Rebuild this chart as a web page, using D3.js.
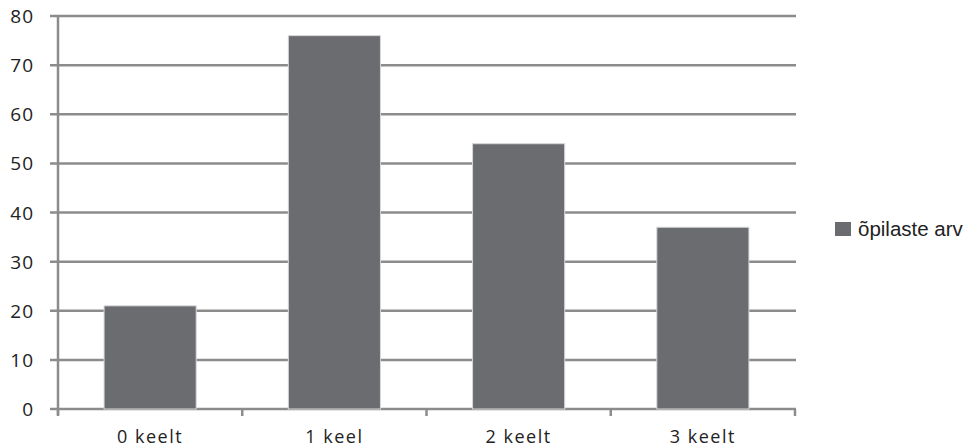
<!DOCTYPE html>
<html lang="et">
<head>
<meta charset="utf-8">
<title>keeled</title>
<script src="https://cdn.jsdelivr.net/npm/d3@7"></script>
<style>
  body { margin: 0; background: #fff; }
</style>
</head>
<body>
<script>
// data
var categories = ["0 keelt", "1 keel", "2 keelt", "3 keelt"];
var values = [21, 76, 54, 37];
var yTicks = [0, 10, 20, 30, 40, 50, 60, 70, 80];
var seriesName = "õpilaste arv";

var W = 965, H = 445;
// note: "top" is reserved on window, so use prefixed names
var pLeft = 58, pRight = 795, pTop = 16, pBottom = 409;
var gridColor = "#8c8c8c", barColor = "#6b6c70";

var svg = d3.select("body").append("svg")
  .attr("width", W).attr("height", H);

var x = d3.scaleBand().domain(categories).range([pLeft, pRight]).paddingInner(0.5).paddingOuter(0.25);
var y = d3.scaleLinear().domain([0, 80]).range([pBottom, pTop]);

// gridlines
svg.selectAll(".grid").data(yTicks).enter().append("line")
  .attr("x1", pLeft - 8).attr("x2", pRight + 1)
  .attr("y1", function(d) { return y(d); })
  .attr("y2", function(d) { return y(d); })
  .attr("stroke", gridColor).attr("stroke-width", 2.5);

// y labels
svg.selectAll(".ylab").data(yTicks).enter().append("text")
  .attr("x", 34).attr("y", function(d) { return y(d) + 7; })
  .attr("text-anchor", "end")
  .attr("font-family", "Open Sans, sans-serif").attr("font-size", 19)
  .attr("letter-spacing", 1)
  .attr("fill", "#222")
  .text(function(d) { return d; });

// bars
svg.selectAll(".bar").data(values).enter().append("rect")
  .attr("x", function(d, i) { return x(categories[i]); })
  .attr("width", x.bandwidth())
  .attr("y", function(d) { return y(d); })
  .attr("height", function(d) { return y(0) - y(d); })
  .attr("fill", barColor)
  .attr("stroke", "#d8d8d8").attr("stroke-width", 1);

// y axis line
svg.append("line").attr("x1", pLeft).attr("x2", pLeft)
  .attr("y1", pTop).attr("y2", pBottom + 6)
  .attr("stroke", gridColor).attr("stroke-width", 2.5);

// x ticks at category boundaries
var step = (pRight - pLeft) / categories.length;
svg.selectAll(".xt").data(d3.range(categories.length + 1)).enter().append("line")
  .attr("x1", function(i) { return pLeft + i * step; })
  .attr("x2", function(i) { return pLeft + i * step; })
  .attr("y1", pBottom).attr("y2", pBottom + 7)
  .attr("stroke", gridColor).attr("stroke-width", 2.5);

// x labels
svg.selectAll(".xlab").data(categories).enter().append("text")
  .attr("x", function(d) { return x(d) + x.bandwidth() / 2; })
  .attr("y", 443)
  .attr("text-anchor", "middle")
  .attr("font-family", "Open Sans, sans-serif").attr("font-size", 18)
  .attr("letter-spacing", 1.5)
  .attr("fill", "#222")
  .text(function(d) { return d; });

// legend
svg.append("rect").attr("x", 835).attr("y", 222).attr("width", 16).attr("height", 14)
  .attr("fill", barColor);
svg.append("text").attr("x", 858).attr("y", 236)
  .attr("font-family", "Liberation Sans, Arial, sans-serif").attr("font-size", 20.5)
  .attr("fill", "#222")
  .text(seriesName);
</script>
</body>
</html>
